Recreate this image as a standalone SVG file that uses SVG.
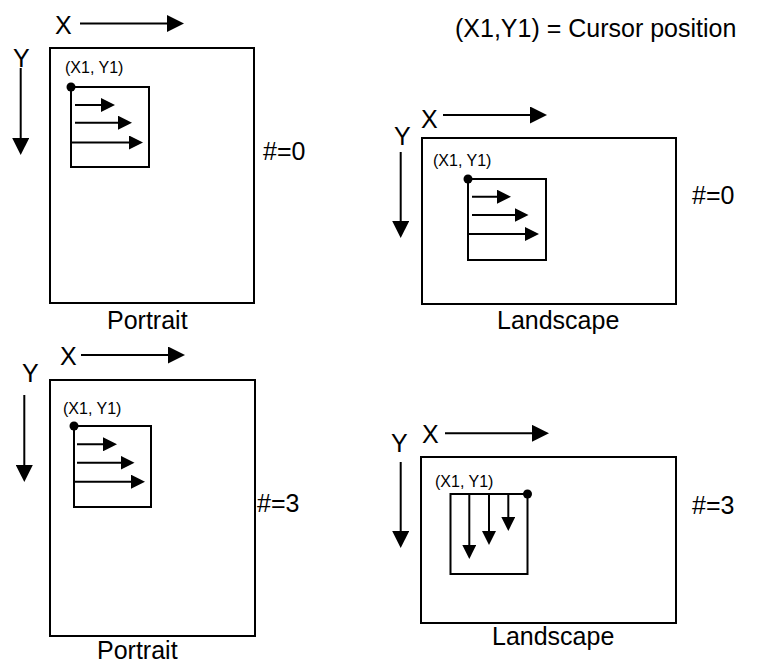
<svg xmlns="http://www.w3.org/2000/svg" width="767" height="664" viewBox="0 0 767 664">
<style>
text{font-family:"Liberation Sans",Arial,sans-serif;fill:#000}
.big{font-size:25px}
.sm{font-size:16px}
.frame{fill:none;stroke:#000;stroke-width:2}
.inner{fill:none;stroke:#000;stroke-width:2}
.dot{fill:#000}
.ax{stroke:#000;stroke-width:2;fill:none;marker-end:url(#hb)}
.ar{stroke:#000;stroke-width:2;fill:none;marker-end:url(#hs)}
</style>
<defs>
<marker id="hb" markerUnits="userSpaceOnUse" markerWidth="17" markerHeight="17" refX="13" refY="8.5" orient="auto"><path d="M0,0 L17,8.5 L0,17 z" fill="#000"/></marker>
<marker id="hs" markerUnits="userSpaceOnUse" markerWidth="14" markerHeight="14" refX="10" refY="7" orient="auto"><path d="M0,0 L14,7 L0,14 z" fill="#000"/></marker>
</defs>
<rect width="767" height="664" fill="#fff"/>
<g id="legend"><text class="big" x="455" y="37">(X1,Y1) = Cursor position</text></g>
<g id="portrait0">
<rect class="frame" x="50" y="48" width="204" height="255"/>
<text class="big" x="55" y="34">X</text>
<text class="big" x="13" y="67">Y</text>
<text class="sm" x="65" y="73">(X1, Y1)</text>
<rect class="inner" x="71" y="87" width="78" height="80"/>
<circle class="dot" cx="71" cy="87" r="4.5"/>
<text class="big" x="263" y="160">#=0</text>
<text class="big" x="107" y="329">Portrait</text>
</g>
<g id="landscape0">
<rect class="frame" x="422" y="138" width="254" height="166"/>
<text class="big" x="421" y="128">X</text>
<text class="big" x="394" y="145">Y</text>
<text class="sm" x="433" y="166">(X1, Y1)</text>
<rect class="inner" x="468" y="179" width="78" height="81"/>
<circle class="dot" cx="468" cy="179" r="4.5"/>
<text class="big" x="692" y="204">#=0</text>
<text class="big" x="497" y="329">Landscape</text>
</g>
<g id="portrait3">
<rect class="frame" x="50" y="380" width="205" height="256"/>
<text class="big" x="60" y="365">X</text>
<text class="big" x="22" y="382">Y</text>
<text class="sm" x="63" y="414">(X1, Y1)</text>
<rect class="inner" x="74" y="426" width="77" height="81"/>
<circle class="dot" cx="74" cy="426" r="4.5"/>
<text class="big" x="257" y="512">#=3</text>
<text class="big" x="97" y="659">Portrait</text>
</g>
<g id="landscape3">
<rect class="frame" x="421" y="457" width="255" height="166"/>
<text class="big" x="422" y="443">X</text>
<text class="big" x="391" y="452">Y</text>
<text class="sm" x="435" y="487">(X1, Y1)</text>
<rect class="inner" x="450.5" y="494" width="77" height="80"/>
<circle class="dot" cx="527.5" cy="494" r="4.5"/>
<text class="big" x="692" y="514">#=3</text>
<text class="big" x="492" y="645">Landscape</text>
</g>
<g id="connectors">
<line class="ax" x1="80" y1="23.5" x2="180" y2="23.5"/>
<line class="ax" x1="20.7" y1="68" x2="20.7" y2="151"/>
<line class="ar" x1="75" y1="105" x2="111" y2="105"/>
<line class="ar" x1="75" y1="122.7" x2="128" y2="122.7"/>
<line class="ar" x1="71" y1="142.5" x2="139" y2="142.5"/>

<line class="ax" x1="443" y1="115" x2="543" y2="115"/>
<line class="ax" x1="400.7" y1="152" x2="400.7" y2="234"/>
<line class="ar" x1="472" y1="196.7" x2="507" y2="196.7"/>
<line class="ar" x1="472" y1="215" x2="524.5" y2="215"/>
<line class="ar" x1="468" y1="234" x2="535" y2="234"/>

<line class="ax" x1="81" y1="355" x2="181" y2="355"/>
<line class="ax" x1="24.3" y1="395" x2="24.3" y2="478"/>
<line class="ar" x1="77" y1="444.3" x2="113" y2="444.3"/>
<line class="ar" x1="77" y1="462.7" x2="130.5" y2="462.7"/>
<line class="ar" x1="74" y1="481.7" x2="141" y2="481.7"/>

<line class="ax" x1="445" y1="433.3" x2="545" y2="433.3"/>
<line class="ax" x1="400.7" y1="462" x2="400.7" y2="544"/>
<line class="ar" x1="469.3" y1="494" x2="469.3" y2="555"/>
<line class="ar" x1="489" y1="494" x2="489" y2="541"/>
<line class="ar" x1="508.3" y1="494" x2="508.3" y2="527"/>
</g>
</svg>
